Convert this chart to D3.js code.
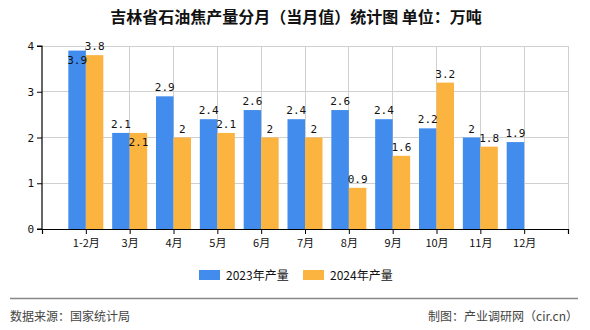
<!DOCTYPE html>
<html><head><meta charset="utf-8">
<script src="https://cdn.jsdelivr.net/npm/d3@7"></script>
<style>body{margin:0;background:#fff}</style>
</head><body><svg id="c" width="590" height="330"></svg>
<script>
const categories = ["1-2月","3月","4月","5月","6月","7月","8月","9月","10月","11月","12月"];
const values2023 = [3.9,2.1,2.9,2.4,2.6,2.4,2.6,2.4,2.2,2,1.9];
const values2024 = [3.8,2.1,2,2.1,2,2,0.9,1.6,3.2,1.8,null];
const seriesNames = ["2023年产量","2024年产量"];
const yTicks = [0,1,2,3,4];
const colors = ["#428CEE","#FCB441"];

const svg = d3.select("#c");
const cn = "'Noto Sans CJK SC', sans-serif";
const mono = "'DejaVu Sans Mono', monospace";
const L = 42, R = 568, T = 46, B = 229;
const x = d3.scaleLinear().domain([0, 12]).range([L, R]);
const y = d3.scaleLinear().domain([0, 4]).range([B, T]);
const bw = 17.5;

svg.append("text").attr("x", 296).attr("y", 23).attr("text-anchor","middle")
  .attr("font-family", cn).attr("font-size", 16).attr("font-weight", "bold").attr("fill","#111")
  .text("吉林省石油焦产量分月（当月值）统计图 单位：万吨");

// grid
const g = svg.append("g");
g.selectAll("line.h").data(yTicks.filter(d=>d>0)).enter().append("line")
  .attr("x1", L).attr("x2", R).attr("y1", d=>y(d)).attr("y2", d=>y(d))
  .attr("stroke","#d0d0d0").attr("stroke-width",1).attr("shape-rendering","crispEdges");
g.selectAll("line.v").data(d3.range(1,13)).enter().append("line")
  .attr("x1", d=>x(d)).attr("x2", d=>x(d)).attr("y1", T).attr("y2", B)
  .attr("stroke","#d0d0d0").attr("stroke-width",1).attr("shape-rendering","crispEdges");

// bars
const data = categories.map((c,i)=>({c, i, a: values2023[i], b: values2024[i]}));
svg.append("g").selectAll("rect").data(data.filter(d=>d.a!=null)).enter().append("rect")
  .attr("x", d=>x(d.i+1)-bw).attr("width", bw).attr("y", d=>y(d.a)).attr("height", d=>B-y(d.a))
  .attr("fill", colors[0]);
svg.append("g").selectAll("rect").data(data.filter(d=>d.b!=null)).enter().append("rect")
  .attr("x", d=>x(d.i+1)).attr("width", bw).attr("y", d=>y(d.b)).attr("height", d=>B-y(d.b))
  .attr("fill", colors[1]);

// axes
const yAxis = d3.axisLeft(y).tickValues(yTicks).tickSize(5).tickFormat(d3.format("d"));
const ya = svg.append("g").attr("transform", `translate(${L},0)`).call(yAxis);
const xAxis = d3.axisBottom(x).tickValues(d3.range(0,13)).tickSize(5)
  .tickFormat(d => (d>=1 && d<=11) ? categories[d-1] : "");
const xa = svg.append("g").attr("transform", `translate(0,${B})`).call(xAxis);
[ya, xa].forEach(a => {
  a.select(".domain").attr("stroke","#000").attr("stroke-width",1.2);
  a.selectAll(".tick line").attr("stroke","#000");
  a.selectAll("text").attr("font-family", cn).attr("font-size", 11).attr("fill","#111");
});
ya.select(".domain").attr("d", `M-5,${T}H0V${B}H-5`);
ya.selectAll("text").attr("font-family", mono).attr("font-size", 11);
xa.selectAll(".tick text").attr("dy", "0.9em");

// labels
const lab = svg.append("g").attr("font-family", mono).attr("font-size", 11).attr("fill","#111").attr("text-anchor","middle");
data.forEach(d => {
  const close = d.b != null && Math.abs(d.a - d.b) < 0.15;
  const aIn = close && d.a > d.b;
  const bIn = close && !(d.a > d.b);
  if (d.a != null) lab.append("text").attr("x", x(d.i+1)-bw/2)
    .attr("y", aIn ? y(d.a)+13 : y(d.a)-5).text(d.a);
  if (d.b != null) lab.append("text").attr("x", x(d.i+1)+bw/2)
    .attr("y", bIn ? y(d.b)+13 : y(d.b)-5).text(d.b);
});

// legend
const leg = svg.append("g").attr("font-family", cn).attr("font-size", 12).attr("fill","#111");
[[199,seriesNames[0],colors[0]],[303,seriesNames[1],colors[1]]].forEach(([lx,t,c])=>{
  leg.append("rect").attr("x", lx).attr("y", 270).attr("width", 21).attr("height", 10).attr("fill", c);
  leg.append("text").attr("x", lx+27).attr("y", 280).text(t);
});

svg.append("line").attr("x1", 10).attr("x2", 578).attr("y1", 298.5).attr("y2", 298.5)
  .attr("stroke","#888").attr("stroke-width",1.5);
svg.append("text").attr("x", 10).attr("y", 321).attr("font-family", cn).attr("font-size", 12).attr("fill","#444")
  .text("数据来源：国家统计局");
svg.append("text").attr("x", 578).attr("y", 321).attr("text-anchor","end").attr("font-family", cn).attr("font-size", 12).attr("fill","#444")
  .text("制图：产业调研网（cir.cn）");
</script></body></html>
